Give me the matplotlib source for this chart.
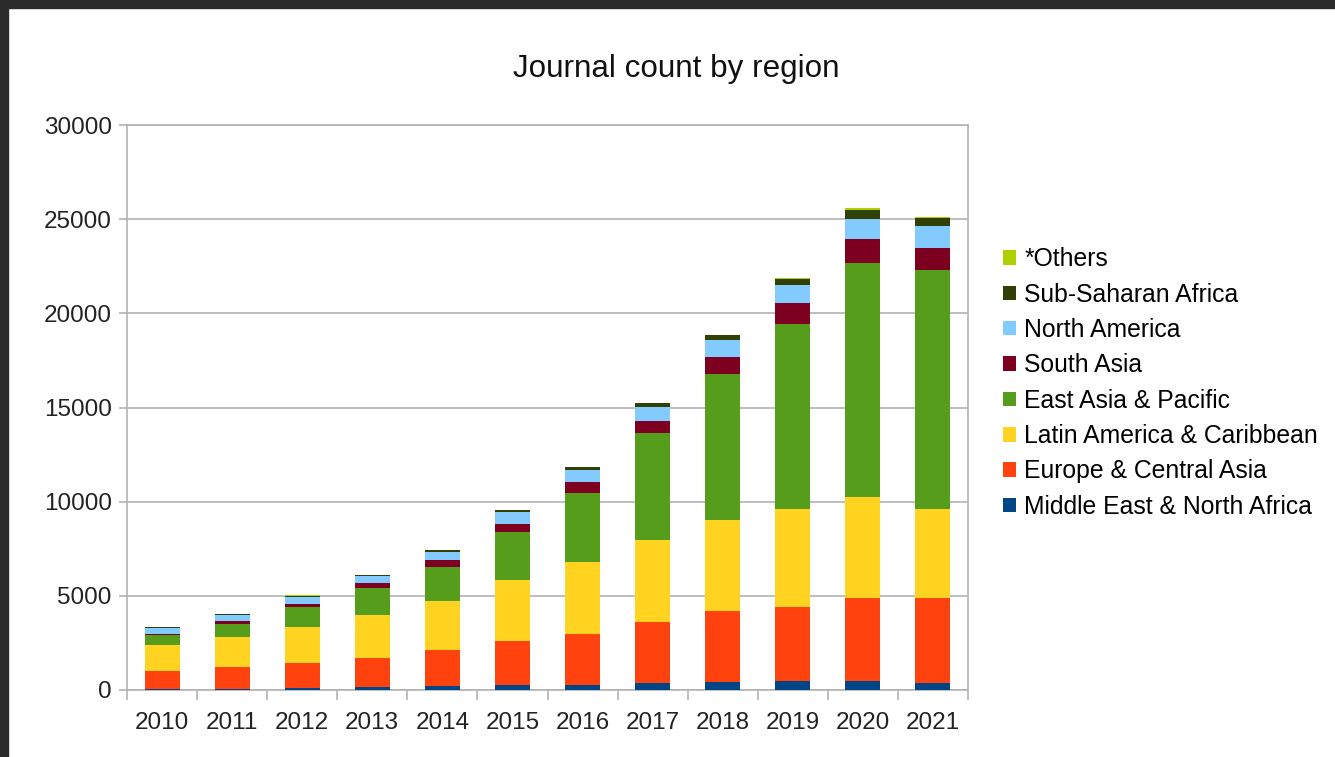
import numpy as np
import matplotlib
matplotlib.use("Agg")
import matplotlib.pyplot as plt
from matplotlib.patches import Rectangle, Patch

plt.rcParams['font.family'] = ['Liberation Sans', 'DejaVu Sans']

years = ['2010', '2011', '2012', '2013', '2014', '2015',
         '2016', '2017', '2018', '2019', '2020', '2021']

# journal counts per region
middle_east = [60, 70, 124, 159, 212, 248, 265, 354, 407, 478, 478, 389]
europe = [966, 1151, 1309, 1522, 1893, 2335, 2725, 3238, 3804, 3928, 4389, 4478]
latin_america = [1363, 1610, 1911, 2300, 2619, 3256, 3787, 4388, 4795, 5185, 5377, 4724]
east_asia = [530, 655, 1044, 1451, 1823, 2565, 3698, 5644, 7750, 9836, 12437, 12686]
south_asia = [71, 159, 195, 230, 336, 425, 584, 655, 937, 1132, 1258, 1167]
north_america = [319, 319, 372, 372, 460, 602, 619, 725, 885, 956, 1062, 1185]
sub_saharan = [20, 53, 53, 70, 88, 106, 159, 213, 265, 318, 477, 442]
others = [5, 5, 10, 10, 20, 20, 30, 30, 30, 60, 90, 30]

series = [middle_east, europe, latin_america, east_asia,
          south_asia, north_america, sub_saharan, others]
names = ['Middle East & North Africa', 'Europe & Central Asia',
         'Latin America & Caribbean', 'East Asia & Pacific',
         'South Asia', 'North America', 'Sub-Saharan Africa', '*Others']
colors = ['#004586', '#ff420e', '#ffd320', '#579d1c',
          '#7e0021', '#83caff', '#314004', '#aecf00']

fig = plt.figure(figsize=(13.35, 7.57), dpi=100)
ax = fig.add_axes([127 / 1335, 1 - 690 / 757, (968 - 127) / 1335, (690 - 125) / 757])

x = np.arange(len(years))
bottom = np.zeros(len(years))
for vals, col in zip(series, colors):
    ax.bar(x, vals, width=0.5, bottom=bottom, color=col, zorder=3)
    bottom += np.array(vals)

grid_col = '#b3b3b3'
ax.set_ylim(0, 30000)
ax.set_xlim(-0.5, len(years) - 0.5)
ax.set_yticks(np.arange(0, 30001, 5000))
ax.yaxis.grid(True, color=grid_col, linewidth=1.2, zorder=0)
for s in ax.spines.values():
    s.set_color(grid_col)
    s.set_linewidth(1.2)

# ticks between categories, labels at centres
ax.set_xticks(np.arange(len(years) + 1) - 0.5)
ax.set_xticklabels([])
ax.set_xticks(x, minor=True)
ax.set_xticklabels(years, minor=True)
ax.tick_params(axis='x', which='major', length=7, color=grid_col, width=1.2)
ax.tick_params(axis='x', which='minor', length=0, pad=16, labelsize=17.5, labelcolor='#222222')
ax.tick_params(axis='y', length=6, color=grid_col, width=1.2, pad=5,
               labelsize=17.5, labelcolor='#222222')

handles = [Patch(facecolor=c, edgecolor='none') for c in colors]
fig.legend(handles[::-1], names[::-1], loc='center left',
           bbox_to_anchor=(1003 / 1335, 1 - 383 / 757), frameon=False,
           fontsize=17.8, handlelength=0.53, handleheight=0.53,
           handletextpad=0.33, labelspacing=0.46, borderpad=0, borderaxespad=0)

fig.text(676 / 1335, 1 - 69 / 757, 'Journal count by region', ha='center', va='center',
         fontsize=22.6, color='#111111')

# dark screenshot border on top and left
fig.patches.append(Rectangle((0, 1 - 8 / 757), 1, 8 / 757, transform=fig.transFigure,
                             color='#2b2b2b', zorder=10))
fig.patches.append(Rectangle((0, 0), 8 / 1335, 1, transform=fig.transFigure,
                             color='#2b2b2b', zorder=10))

fig.savefig('out.png', dpi=100)
